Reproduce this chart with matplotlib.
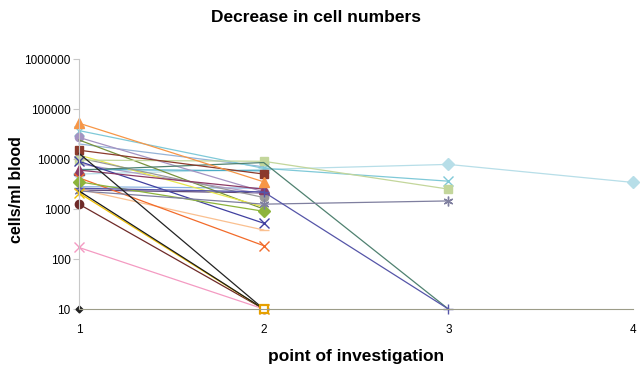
import numpy as np
import matplotlib
matplotlib.use("Agg")
import matplotlib.pyplot as plt

nan = np.nan

# --- data: cells/ml blood at each point of investigation ---
points = [1, 2, 3, 4]

s_orange_tri = [52000, 3500, nan, nan]
s_cyan_x = [37000, 6500, 3600, nan]
s_lavender = [27000, 2200, nan, nan]
s_darkgreen = [24000, 1000, nan, nan]
s_skyblue = [20000, 7000, nan, nan]
s_brown_sq = [15000, 5000, nan, nan]
s_black_steep = [13000, 10, nan, nan]
s_yellow_hi = [12000, 1100, nan, nan]
s_gray = [10500, 1700, nan, nan]
s_lightgreen = [9500, 9000, 2500, nan]
s_blue_x = [9000, 520, nan, nan]
s_violet = [8000, 2000, nan, nan]
s_purple_tri = [6000, 2500, nan, nan]
s_teal = [6000, 8500, 10, nan]
s_aqua = [6200, 5800, nan, nan]
s_pale_cyan = [5000, 6200, 7800, 3400]
s_orange_x = [4200, 185, nan, nan]
s_green_dia = [3500, 900, nan, nan]
s_lightblue = [2800, 2600, nan, nan]
s_peach = [2500, 380, nan, nan]
s_darkpurple = [2400, 2100, nan, nan]
s_grayviolet = [2300, 1250, 1450, nan]
s_indigo = [2600, 2200, 10, nan]
s_black_low = [2300, 10, nan, nan]
s_gold = [2100, 10, nan, nan]
s_maroon = [1250, 10, nan, nan]
s_pink = [170, 10, nan, nan]
s_base = [10, nan, nan, nan]

# series, colour, marker
series = [
    (s_pale_cyan, '#B7DEE8', 'D'),
    (s_lightblue, '#8DB4E2', ''),
    (s_darkpurple, '#5F497A', ''),
    (s_violet, '#B3A2C7', ''),
    (s_aqua, '#4BACC6', ''),
    (s_skyblue, '#95B3D7', ''),
    (s_cyan_x, '#7FC9D8', 'x'),
    (s_lavender, '#A593C2', 'o'),
    (s_darkgreen, '#77933C', ''),
    (s_yellow_hi, '#E8E84A', ''),
    (s_gray, '#9A9A9A', 'o'),
    (s_lightgreen, '#C3D69B', 's'),
    (s_teal, '#4F8170', ''),
    (s_blue_x, '#4040A0', 'x'),
    (s_purple_tri, '#8C3A64', '^'),
    (s_peach, '#FAC090', '_'),
    (s_orange_x, '#F26B2A', 'x'),
    (s_green_dia, '#8DB43C', 'D'),
    (s_grayviolet, '#7F7F9F', (6, 2, 0)),
    (s_indigo, '#5555A8', '+'),
    (s_brown_sq, '#8B3A2B', 's'),
    (s_orange_tri, '#F79646', '^'),
    (s_maroon, '#6E2A28', 'o'),
    (s_pink, '#F49AC2', 'x'),
    (s_black_steep, '#222222', ''),
    (s_gold, '#F0C000', 'x'),
    (s_black_low, '#1A1A1A', ''),
    (s_base, '#222222', 'D'),
]

fig = plt.figure(figsize=(6.4, 3.75), dpi=100)
ax = fig.add_axes([79 / 640, 1 - 309 / 375, 554 / 640, 250 / 375])

for vals, col, mk in series:
    if vals is s_base:
        ax.plot(points, vals, color=col, marker='D', ms=3.5, clip_on=False)
    elif mk in ('x', '+', '_') or isinstance(mk, tuple):
        ax.plot(points, vals, color=col, lw=0.9, marker=mk, ms=7, mew=1.0, clip_on=False)
    elif mk == '^':
        ax.plot(points, vals, color=col, lw=0.9, marker=mk, ms=7, mec=col, mfc=col,
                clip_on=False)
    else:
        ax.plot(points, vals, color=col, lw=0.9, marker=mk if mk else None, ms=6,
                mec=col, mfc=col, clip_on=False)

# orange-edged square marker sitting at the bottom of point 2
ax.plot([2], [10], marker='s', ms=6, mfc='white', mec='#E6A000', mew=1.6, ls='none',
        clip_on=False)

ax.set_yscale('log')
ax.set_ylim(10, 1e6)
ax.set_xlim(1, 4)
ax.set_xticks(points)
ax.set_xticklabels(['1', '2', '3', '4'])
ax.set_yticks([10, 100, 1000, 10000, 100000, 1000000])
ax.set_yticklabels(['10', '100', '1000', '10000', '100000', '1000000'])
ax.minorticks_off()

for side in ['top', 'right']:
    ax.spines[side].set_visible(False)
ax.spines['left'].set_color('#C8C8C8')
ax.spines['bottom'].set_color('#9C9C88')
ax.tick_params(axis='y', length=4, color='#C8C8C8', labelsize=8.5, pad=2)
ax.tick_params(axis='x', length=0, labelsize=8.5, pad=11)

fnt = 'Liberation Sans'
for lbl in ax.get_xticklabels() + ax.get_yticklabels():
    lbl.set_family(fnt)

fig.text(316 / 640, 1 - 17 / 375, 'Decrease in cell numbers', ha='center', va='center',
         fontsize=12.5, fontweight='bold', family=fnt)
fig.text(356 / 640, 1 - 356 / 375, 'point of investigation', ha='center', va='center',
         fontsize=12.5, fontweight='bold', family=fnt)
fig.text(17 / 640, 1 - 190 / 375, 'cells/ml blood', rotation=90, ha='center', va='center',
         fontsize=11.5, fontweight='bold', family=fnt)

fig.savefig('out.png', dpi=100)
